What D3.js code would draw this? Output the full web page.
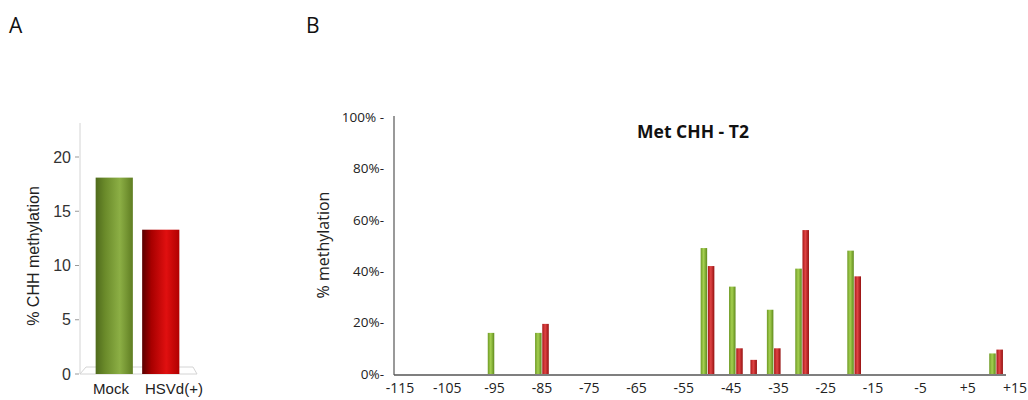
<!DOCTYPE html>
<html lang="en">
<head>
<meta charset="utf-8"/>
<script src="https://cdnjs.cloudflare.com/ajax/libs/d3/7.8.5/d3.min.js"></script>
<style>
  body { margin: 0; background: #fff; }
  svg { display: block; }
</style>
</head>
<body>
<svg id="chart"></svg>
<script>
// panel A data
var groupsA = ["Mock", "HSVd(+)"];
var valuesA = [18.1, 13.3];
var ticksA = [0, 5, 10, 15, 20];

// panel B data (position relative to TSS)
var positionsB = [-95, -85, -50, -44, -41, -36, -30, -19, 11];
var mockB = [16, 16, 49, 34, 0, 25, 41, 48, 8];
var hsvdB = [0, 19.5, 42, 10, 5.5, 10, 56, 38, 9.5];
var xTicksB = ["-115", "-105", "-95", "-85", "-75", "-65", "-55", "-45", "-35", "-25", "-15", "-5", "+5", "+15"];
var yTicksB = [0, 20, 40, 60, 80, 100];
var yTickLabelsB = ["0%-", "20%-", "40%-", "60%-", "80%-", "100% -"];

var svg = d3.select("#chart").attr("width", 1028).attr("height", 400);
var defs = svg.append("defs");

// cylinder-like shading for the bars
function grad(id, stops) {
  var g = defs.append("linearGradient").attr("id", id)
    .attr("x1", "0%").attr("x2", "100%").attr("y1", "0%").attr("y2", "0%");
  stops.forEach(function(s) {
    g.append("stop").attr("offset", s[0]).attr("stop-color", s[1]);
  });
}
grad("greenA", [["0%", "#4f6b1c"], ["25%", "#6a8a2a"], ["65%", "#8caf45"], ["100%", "#5f7d22"]]);
grad("redA", [["0%", "#5a0000"], ["25%", "#a80000"], ["65%", "#e01010"], ["100%", "#b00000"]]);
grad("greenB", [["0%", "#6e9a25"], ["45%", "#a5d050"], ["100%", "#5f8a1c"]]);
grad("redB", [["0%", "#a81818"], ["45%", "#e04545"], ["100%", "#951010"]]);

// panel letters
svg.append("text").attr("x", 9).attr("y", 33).text("A")
  .style("font-family", "Open Sans, sans-serif").style("font-size", "21px").attr("fill", "#111");
svg.append("text").attr("x", 306).attr("y", 33).text("B")
  .style("font-family", "Open Sans, sans-serif").style("font-size", "21px").attr("fill", "#111");

// ---------- panel A ----------
var yA = d3.scaleLinear().domain([0, 20]).range([374, 157]);
var xA = d3.scaleBand().domain(groupsA).range([91, 184]).paddingInner(0.2).paddingOuter(0.1);
var gA = svg.append("g").style("font-family", "Liberation Sans, Arial, sans-serif");

// floor
gA.append("path")
  .attr("d", "M80,374 L197,374 L193,367 L86,367 Z")
  .attr("fill", "none").attr("stroke", "#d4d4d4").attr("stroke-width", 1);
gA.append("line").attr("x1", 80).attr("x2", 80).attr("y1", 123).attr("y2", 374)
  .attr("stroke", "#d4d4d4");

gA.selectAll("g.tick").data(ticksA).enter().append("g").attr("class", "tick")
  .each(function(d) {
    var t = d3.select(this);
    t.append("line").attr("x1", 75).attr("x2", 79).attr("y1", yA(d)).attr("y2", yA(d))
      .attr("stroke", "#999");
    t.append("text").attr("x", 71).attr("y", yA(d)).attr("dy", "0.35em")
      .attr("text-anchor", "end").style("font-size", "16px").attr("fill", "#333").text(d);
  });

gA.selectAll("rect.barA").data(valuesA).enter().append("rect").attr("class", "barA")
  .attr("x", function(d, i) { return xA(groupsA[i]); })
  .attr("width", xA.bandwidth())
  .attr("y", function(d) { return yA(d); })
  .attr("height", function(d) { return yA(0) - yA(d); })
  .attr("fill", function(d, i) { return i === 0 ? "url(#greenA)" : "url(#redA)"; });

gA.selectAll("text.lab").data(groupsA).enter().append("text").attr("class", "lab")
  .attr("x", function(d, i) { return i === 0 ? 111 : 174; })
  .attr("y", 394).attr("text-anchor", "middle")
  .style("font-size", "15px").attr("fill", "#222").text(function(d) { return d; });

gA.append("text")
  .attr("transform", "translate(39,256) rotate(-90)")
  .attr("text-anchor", "middle").style("font-size", "16px").attr("fill", "#222")
  .text("% CHH methylation");

// ---------- panel B ----------
var xB = d3.scaleLinear().domain([-115, 15]).range([400, 1015]);
var yB = d3.scaleLinear().domain([0, 100]).range([374, 117]);
var gB = svg.append("g").style("font-family", "Open Sans, sans-serif");
var barW = 6.5, off = 3.6;

gB.append("line").attr("x1", 394).attr("x2", 394).attr("y1", 116).attr("y2", 375)
  .attr("stroke", "#555").attr("stroke-width", 1.2);
gB.append("line").attr("x1", 394).attr("x2", 1006).attr("y1", 375).attr("y2", 375)
  .attr("stroke", "#555").attr("stroke-width", 1.5);

gB.selectAll("text.ytick").data(yTicksB).enter().append("text").attr("class", "ytick")
  .attr("x", 384).attr("y", function(d) { return yB(d); }).attr("dy", "0.35em")
  .attr("text-anchor", "end").style("font-size", "13.5px").attr("fill", "#222")
  .text(function(d, i) { return yTickLabelsB[i]; });

gB.selectAll("text.xtick").data(xTicksB).enter().append("text").attr("class", "xtick")
  .attr("x", function(d) { return xB(+d); }).attr("y", 393)
  .attr("text-anchor", "middle").style("font-size", "14px").attr("fill", "#222")
  .text(function(d) { return d; });

gB.append("text")
  .attr("transform", "translate(329,245) rotate(-90)")
  .attr("text-anchor", "middle").style("font-size", "16px").attr("fill", "#222")
  .text("% methylation");

gB.append("text").attr("x", 693).attr("y", 138).attr("text-anchor", "middle")
  .style("font-size", "17.5px").style("font-weight", "bold").attr("fill", "#111")
  .text("Met CHH - T2");

gB.selectAll("rect.mock").data(mockB).enter().append("rect").attr("class", "mock")
  .attr("x", function(d, i) { return xB(positionsB[i]) - off - barW / 2; })
  .attr("width", barW)
  .attr("y", function(d) { return yB(d); })
  .attr("height", function(d) { return yB(0) - yB(d); })
  .attr("fill", "url(#greenB)");

gB.selectAll("rect.hsvd").data(hsvdB).enter().append("rect").attr("class", "hsvd")
  .attr("x", function(d, i) { return xB(positionsB[i]) + off - barW / 2; })
  .attr("width", barW)
  .attr("y", function(d) { return yB(d); })
  .attr("height", function(d) { return yB(0) - yB(d); })
  .attr("fill", "url(#redB)");
</script>
</body>
</html>
